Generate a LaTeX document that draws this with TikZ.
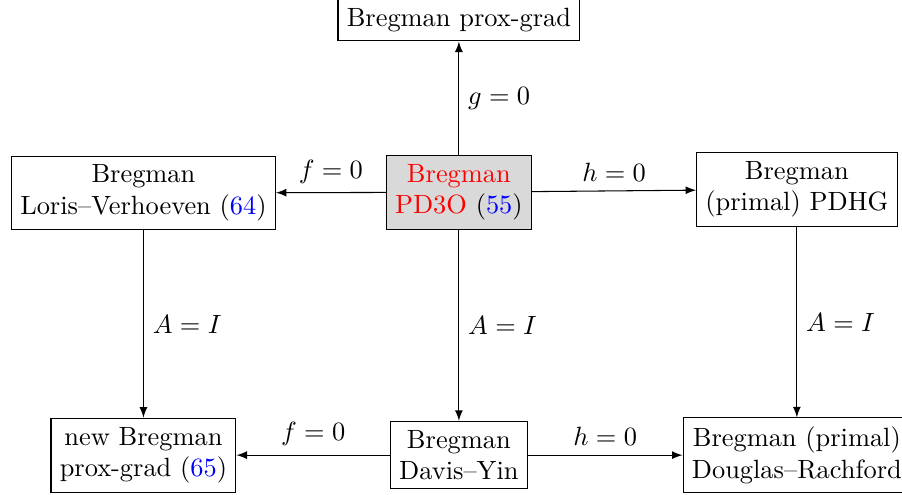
\documentclass[tikz,border=0pt]{standalone}
\usepackage{tikz}
\usepackage{xcolor}
\begin{document}
\begin{tikzpicture}[
    box/.style={draw, align=center},
    arr/.style={->, >=latex}
]
\useasboundingbox (0,0) rectangle (12.01,-6.58);
\node[box, fill=gray!30] (pd3o) at (6.11,-2.56) {\textcolor{red}{Bregman}\\\textcolor{red}{PD3O} (\textcolor{blue}{55})};
\node[box] (pg) at (6.11,-0.27) {Bregman prox-grad};
\node[box] (lv) at (1.91,-2.57) {Bregman\\Loris--Verhoeven (\textcolor{blue}{64})};
\node[box] (pdhg) at (10.61,-2.52) {Bregman\\(primal) PDHG};
\node[box] (npg) at (1.91,-6.06) {new Bregman\\prox-grad (\textcolor{blue}{65})};
\node[box] (dy) at (6.11,-6.06) {Bregman\\Davis--Yin};
\node[box] (dr) at (10.61,-6.06) {Bregman (primal)\\Douglas--Rachford};
\draw[arr] (pd3o) -- node[right]{$g=0$} (pg);
\draw[arr] (pd3o) -- node[above]{$f=0$} (lv);
\draw[arr] (pd3o) -- node[above]{$h=0$} (pdhg);
\draw[arr] (pd3o) -- node[right]{$A=I$} (dy);
\draw[arr] (lv) -- node[right]{$A=I$} (npg);
\draw[arr] (pdhg) -- node[right]{$A=I$} (dr);
\draw[arr] (dy) -- node[above]{$f=0$} (npg);
\draw[arr] (dy) -- node[above]{$h=0$} (dr);
\end{tikzpicture}
\end{document}
